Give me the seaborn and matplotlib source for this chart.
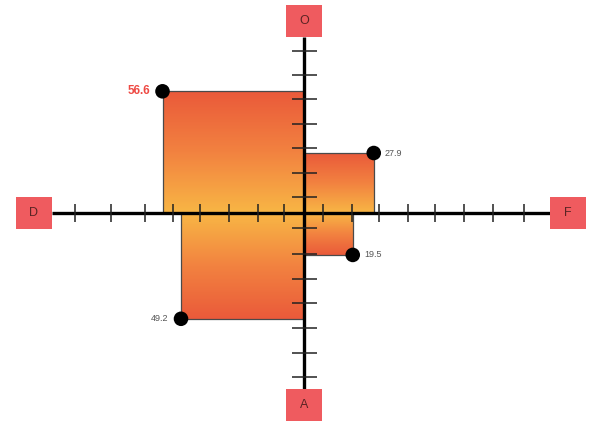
import numpy as np
import pandas as pd
import seaborn as sns
import matplotlib.pyplot as plt
from matplotlib.colors import LinearSegmentedColormap
from matplotlib.patches import Rectangle

# quadrant values (square side length in data units)
quadrants = ["top_left", "top_right", "bottom_right", "bottom_left"]
values = [56.6, 27.9, 19.5, 49.2]
x_sign = [-1, 1, 1, -1]
y_sign = [1, 1, -1, -1]
label_colors = ["#ee4a44", "#555555", "#555555", "#555555"]

# axis end labels
axis_names = ["O", "A", "D", "F"]

# tick marks along the cross (data units)
xticks = [-91.5, -77.4, -63.7, -52.4, -41.5, -30.2, -18.5, -8.1,
          7.7, 19.0, 29.8, 41.5, 52.4, 64.1, 75.4, 87.9]
yticks = [-76.5, -65.0, -53.5, -42.0, -30.5, -19.0, -7.0,
          7.5, 18.8, 30.2, 41.5, 52.8, 64.0, 75.5]

sns.set_theme(style="white")
plt.rcParams["font.family"] = ["Liberation Sans", "DejaVu Sans"]

# pixels per data unit
sx, sy = 2.5, 2.15
W, H = 594, 423
cx, cy = 304, 213

fig = plt.figure(figsize=(W / 100, H / 100), dpi=100)
ax = fig.add_axes([0, 0, 1, 1])
ax.axis("off")

cmap = LinearSegmentedColormap.from_list("fill", ["#f8b645", "#f28240", "#ea5a3a"])

df = pd.DataFrame({
    "quad": quadrants,
    "x": [s * v for s, v in zip(x_sign, values)],
    "y": [s * v for s, v in zip(y_sign, values)],
    "value": values,
})

# gradient squares
for i, row in df.iterrows():
    x0, x1 = sorted([0, row["x"]])
    y0, y1 = sorted([0, row["y"]])
    grad = np.linspace(0, 1, 200).reshape(-1, 1)
    if row["y"] < 0:
        grad = grad[::-1]
    ax.imshow(grad, cmap=cmap, extent=(x0, x1, y0, y1), origin="lower",
              aspect="auto", zorder=1)
    ax.add_patch(Rectangle((x0, y0), x1 - x0, y1 - y0, fill=False,
                           edgecolor="#4a4a4a", lw=0.9, zorder=2))

# main axes
xe, ye = 98.5, 82
ax.plot([-xe - 2.3, xe], [0, 0], color="black", lw=2.4, zorder=3, solid_capstyle="butt")
ax.plot([0, 0], [-ye, ye], color="black", lw=2.4, zorder=3, solid_capstyle="butt")

ax.vlines(xticks, -4.3, 4.3, color="#222222", lw=1.1, zorder=3)
ax.hlines(yticks, -5.0, 5.0, color="#222222", lw=1.1, zorder=3)

# end boxes
bw, bh = 36 / sx, 32 / sy
box_pos = {
    "O": (0, ye + bh / 2),
    "A": (0, -ye - bh / 2),
    "D": (-xe - 2.3 - bw / 2, 0),
    "F": (xe + bw / 2, 0),
}
for name in axis_names:
    bx, by = box_pos[name]
    ax.add_patch(Rectangle((bx - bw / 2, by - bh / 2), bw, bh,
                           facecolor="#ef5b5f", edgecolor="none", zorder=4))
    ax.text(bx, by, name, ha="center", va="center", fontsize=9,
            color="#5a2424", zorder=5)

# corner dots
sns.scatterplot(data=df, x="x", y="y", color="black", s=110,
                edgecolor="none", legend=False, ax=ax, zorder=6)

for i, row in df.iterrows():
    right = row["x"] > 0
    ax.annotate(f"{row['value']:.1f}", (row["x"], row["y"]),
                xytext=(8 if right else -9, 0), textcoords="offset points",
                ha="left" if right else "right", va="center",
                fontsize=8.5 if i == 0 else 6.5,
                fontweight="bold" if i == 0 else "normal",
                color=label_colors[i], zorder=6)

ax.set_xlim(-cx / sx, (W - cx) / sx)
ax.set_ylim(-(H - cy) / sy, cy / sy)
fig.savefig("out.png", dpi=100)
